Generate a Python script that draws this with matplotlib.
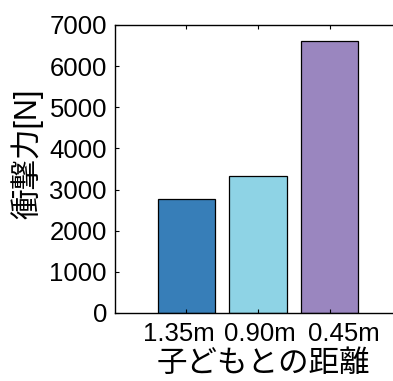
import matplotlib
matplotlib.use("Agg")
import matplotlib.pyplot as plt
from matplotlib.transforms import ScaledTranslation

# data
distances = ["1.35m", "0.90m", "0.45m"]
impact_force = [2780, 3340, 6600]
bar_colors = ["#377eb8", "#8ed3e5", "#9a86bf"]
y_ticks = [0, 1000, 2000, 3000, 4000, 5000, 6000, 7000]

plt.rcParams["font.family"] = ["Liberation Sans", "Noto Sans CJK JP"]

fig = plt.figure(figsize=(3.93, 3.81), dpi=100)
ax = fig.add_axes([0.2926, 0.1785, 0.7278, 0.7559])

x = [1, 2, 3]
ax.bar(x, impact_force, width=0.8, color=bar_colors, edgecolor="black", linewidth=0.9)

ax.set_xlim(0, 4)
ax.set_ylim(0, 7000)
ax.set_xticks(x)
ax.set_xticklabels(distances)
ax.set_yticks(y_ticks)

ax.tick_params(direction="in", length=3, width=0.8, top=True, right=False,
               labelsize=18.5, colors="black")
ax.tick_params(axis="y", pad=5.8)
ax.tick_params(axis="x", pad=6.5)
for s in ax.spines.values():
    s.set_linewidth(1.0)
ax.spines["right"].set_visible(False)

# the reference spreads the x labels a bit wider than the bars
shifts = [-8, 1.5, 14]
for lab, dx in zip(ax.get_xticklabels(), shifts):
    lab.set_transform(lab.get_transform() + ScaledTranslation(dx / 100, 0, fig.dpi_scale_trans))

fig.text(0.069, 0.595, "衝撃力[N]", rotation=90, ha="center", va="center",
         fontsize=22, family=["Liberation Sans", "Noto Sans CJK JP"])
fig.text(0.67, 0.045, "子どもとの距離", ha="center", va="center",
         fontsize=22, family=["Noto Sans CJK JP"])

fig.savefig("out.png", dpi=100)
